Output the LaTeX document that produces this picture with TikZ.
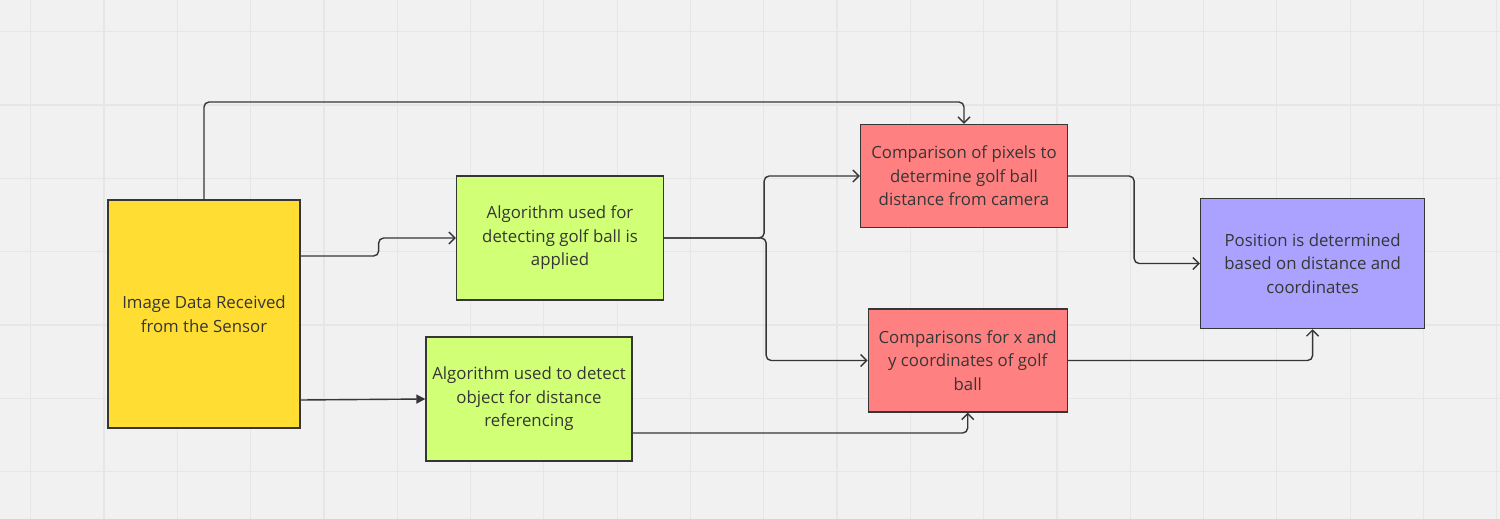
\documentclass[tikz,border=0pt]{standalone}
\usepackage{fontspec}
\setmainfont{Open Sans}
\usetikzlibrary{arrows.meta,positioning}

\definecolor{bgcol}{HTML}{F1F1F1}
\definecolor{gridcol}{HTML}{E6E6E6}
\definecolor{inkcol}{HTML}{363636}
\definecolor{sensorcol}{HTML}{FFDD33}
\definecolor{algocol}{HTML}{D1FF75}
\definecolor{cmpcol}{HTML}{FF8080}
\definecolor{poscol}{HTML}{ABA1FF}

\begin{document}
\begin{tikzpicture}[x=1pt,y=-1pt]
      \fill[bgcol] (0,0) rectangle (1500,519);
      \useasboundingbox (0,0) rectangle (1500,519);
      % board grid
      \foreach \i in {0,...,20} {
        \draw[gridcol, line width=1.2pt] (30.7+73.3*\i,0) -- (30.7+73.3*\i,519);
      }
      \foreach \i in {0,...,6} {
        \draw[gridcol, line width=1.2pt] (0,31.7+73.3*\i) -- (1500,31.7+73.3*\i);
      }
      \begin{scope}[every node/.style={rectangle,draw=inkcol,line width=1.3pt,
          align=center,inner sep=0pt,text=inkcol,
          font=\fontsize{16.8}{23.5}\selectfont}]
        \node[fill=sensorcol,minimum width=192pt,minimum height=228pt] (img) at (204,314)
          {Image Data Received\\from the Sensor};
        \node[fill=algocol,minimum width=207pt,minimum height=124pt] (algoball) at (560,238)
          {Algorithm used for\\detecting golf ball is\\applied};
        \node[fill=algocol,minimum width=206pt,minimum height=124pt] (algoref) at (529,399)
          {Algorithm used to detect\\object for distance\\referencing};
        \node[fill=cmpcol,minimum width=207pt,minimum height=103pt] (cmppix) at (964,176)
          {Comparison of pixels to\\determine golf ball\\distance from camera};
        \node[fill=cmpcol,minimum width=199pt,minimum height=103pt] (cmpxy) at (967.7,360.5)
          {Comparisons for x and\\y coordinates of golf\\ball};
        \node[fill=poscol,minimum width=224pt,minimum height=130pt] (pos) at (1312.6,263.5)
          {Position is determined\\based on distance and\\coordinates};
      \end{scope}
      \coordinate (topline) at (0,102);
      \begin{scope}
        [every path/.style={draw=inkcol,line width=1.4pt,rounded corners=5pt,
          -{Straight Barb[length=6pt,width=12pt]}}]
        \path (img.north) -- (img.north |- topline) -| (cmppix.north);
        \path ([yshift=58pt]img.east) -- ++(78,0) |- (algoball.west);
        \path[-{Triangle[length=9pt,width=9pt]}] ([yshift=-86pt]img.east) -- (algoref.west);
        \path (algoball.east) -- ++(100,0) |- (cmppix.west);
        \path (algoball.east) -- ++(102,0) |- (cmpxy.west);
        \path ([yshift=-34pt]algoref.east) -| (cmpxy.south);
        \path (cmppix.east) -- ++(66,0) |- (pos.west);
        \path (cmpxy.east) -| (pos.south);
      \end{scope}
    \end{tikzpicture}
\end{document}
